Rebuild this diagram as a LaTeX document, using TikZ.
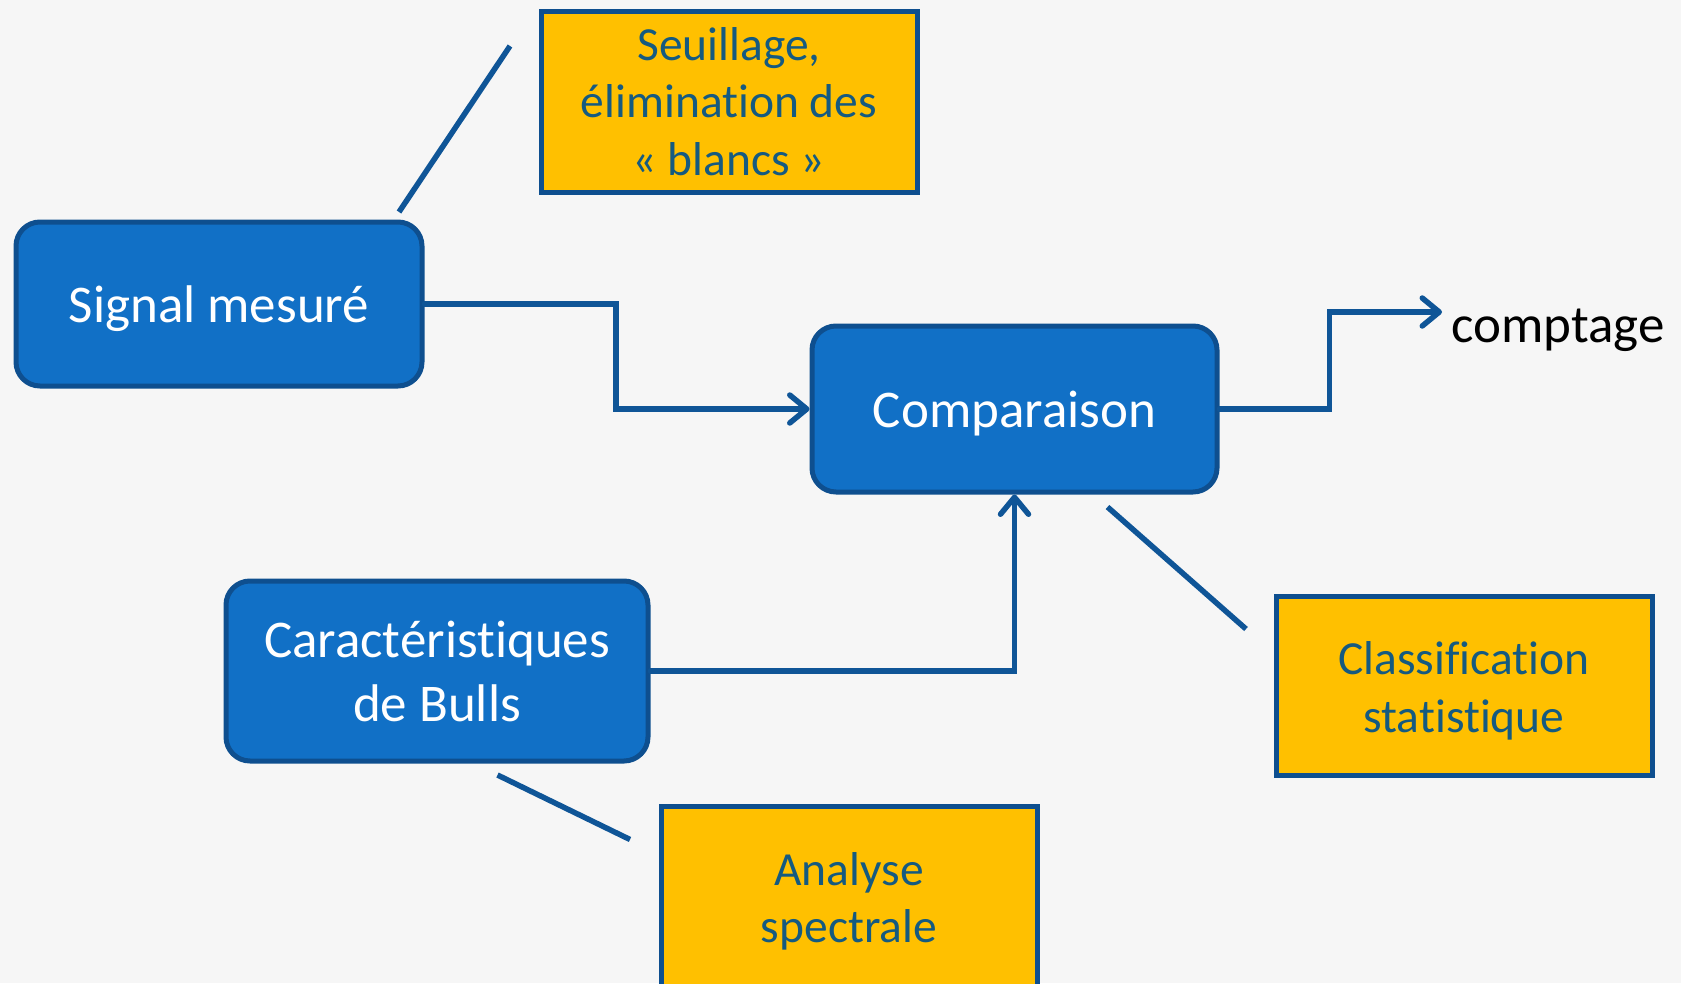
\documentclass[tikz,border=0pt]{standalone}
\usepackage{fontspec}
\setmainfont{Carlito}[Ligatures={NoCommon}]
\usetikzlibrary{arrows.meta}
\definecolor{bg}{HTML}{F6F6F6}
\definecolor{bfill}{HTML}{1170C6}
\definecolor{bdraw}{HTML}{0E4F8F}
\definecolor{yfill}{HTML}{FFC000}
\definecolor{ytext}{HTML}{155A80}
\definecolor{conn}{HTML}{0F5597}
\tikzset{
  bluebox/.style={draw=bdraw, fill=bfill, line width=5pt, rounded corners=24pt,
    text=white, align=center, inner sep=0pt,
    font=\fontsize{53}{64}\selectfont},
  oneline/.style={text height=48pt, text depth=11pt},
  yellowbox/.style={draw=bdraw, fill=yfill, line width=5pt,
    text=ytext, align=center, inner sep=0pt,
    font=\fontsize{47.5}{57.4}\selectfont},
  flow/.style={draw=conn, line width=5.5pt, line cap=round,
    -{Straight Barb[length=17pt,width=28pt,round]}},
  note/.style={draw=conn, line width=5.5pt},
}
\begin{document}
\begin{tikzpicture}[x=1pt,y=-1pt]
\fill[bg] (0,0) rectangle (1681,983);
\useasboundingbox (0,0) rectangle (1681,983);
\begin{scope}
\clip (0,0) rectangle (1681,983);
\node[bluebox, oneline, minimum width=406pt, minimum height=164pt] (signal) at (219,304) {Signal mesuré};
\node[yellowbox, minimum width=376pt, minimum height=181pt] (seuil) at (729,101.5) {Seuillage,\\élimination des\\« blancs »};
\node[bluebox, oneline, minimum width=405pt, minimum height=166pt] (comp) at (1014.5,409) {Comparaison};
\node[bluebox, minimum width=422pt, minimum height=180pt] (carac) at (437,671) {Caractéristiques\\de Bulls};
\node[yellowbox, minimum width=376pt, minimum height=179pt] (classif) at (1464,685.5) {\rule{0pt}{44pt}Classification\\statistique};
\node[yellowbox, minimum width=376pt, minimum height=180pt] (analyse) at (849,896) {\rule{0pt}{44pt}Analyse\\spectrale};
\node[anchor=west, inner sep=0pt, font=\fontsize{53}{64}\selectfont] (compt) at (1451,330) {comptage};

\coordinate (comptin) at (1442,312);
\draw[flow] (signal.east) -- (616,304) |- (comp.west);
\draw[flow] (carac.east) -| (comp.south);
\draw[flow] (comp.east) -- (1329.5,409) |- (comptin);

\coordinate (n1a) at (399,212);
\coordinate (n1b) at (510,46);
\coordinate (n2a) at (1107.5,507);
\coordinate (n2b) at (1246,629);
\coordinate (n3a) at (497.5,775);
\coordinate (n3b) at (630,839.5);
\draw[note] (n1a) -- (n1b);
\draw[note] (n2a) -- (n2b);
\draw[note] (n3a) -- (n3b);
\end{scope}
\end{tikzpicture}
\end{document}
